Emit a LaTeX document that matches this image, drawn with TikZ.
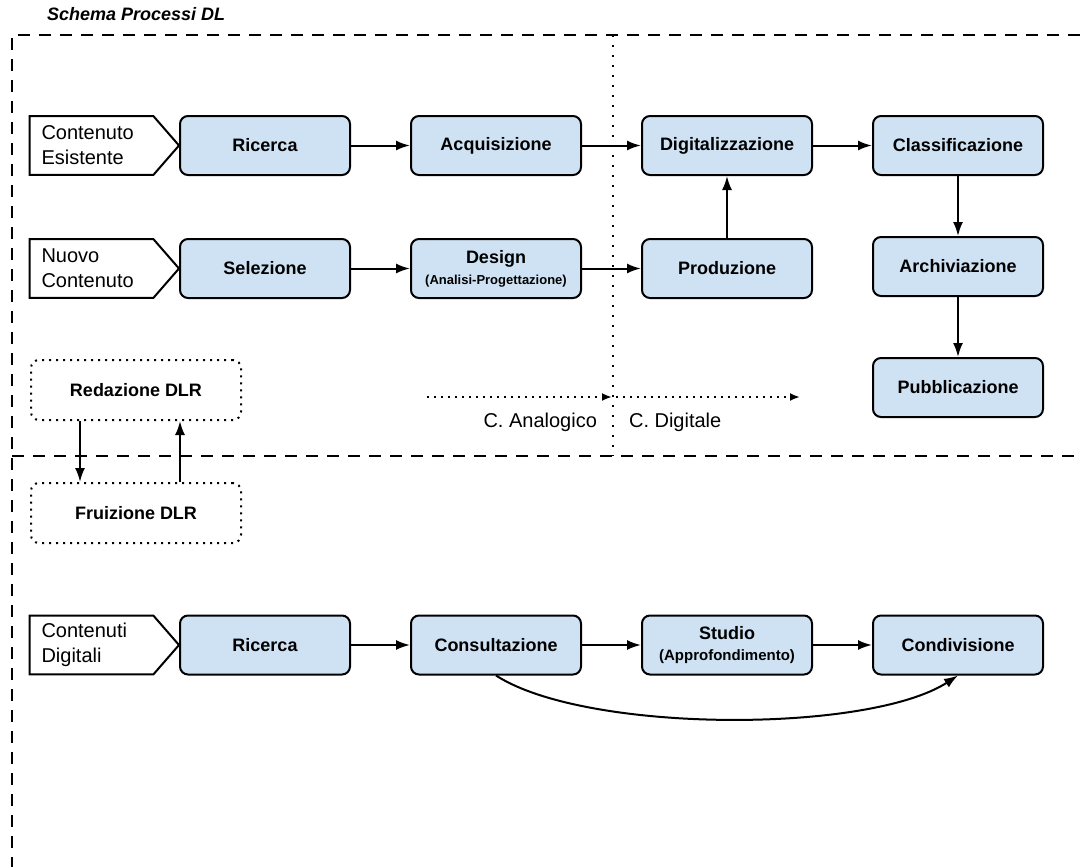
\documentclass[tikz,border=0pt]{standalone}
\usepackage{fontspec}
\setmainfont{Liberation Sans}
\usetikzlibrary{positioning,chains,arrows.meta}
\definecolor{boxblue}{RGB}{207,226,243}

\begin{document}
\begin{tikzpicture}[x=0.5pt,y=-0.5pt,
proc/.style={draw,line width=1pt,rounded corners=4pt,fill=boxblue,
 minimum width=85pt,minimum height=29.5pt,align=center,inner sep=1pt,
 font=\bfseries\fontsize{9}{10.5}\selectfont},
procc/.style={proc,on chain,join},
src/.style={minimum width=61.5pt,minimum height=29pt,inner xsep=5.75pt,
 text width=50pt,align=left,font=\fontsize{10}{12.5}\selectfont},
redbox/.style={draw,line width=1pt,dash pattern=on 1pt off 2.5pt,
 rounded corners=4pt,minimum width=105pt,minimum height=30pt,
 font=\bfseries\fontsize{9}{11}\selectfont},
arr/.style={-{Latex[length=7pt,width=5pt]},line width=1pt},
darr/.style={-{Latex[length=5pt,width=4pt]},line width=1pt,
 dash pattern=on 1pt off 2.5pt},
frame/.style={line width=1pt,dash pattern=on 6pt off 4.5pt},
sep/.style={line width=1pt,dash pattern=on 1pt off 4pt}]
\useasboundingbox (0,0) rectangle (1080,867);

% cornice e separatori
\node[anchor=west,font=\bfseries\itshape\fontsize{9}{11}\selectfont] (title)
 at (40,14) {Schema Processi DL};
\draw[frame] (1080,35) -- (12,35) -- (12,867);
\draw[frame] (12,456) -- (1080,456);
\draw[sep] (613,35) -- (613,456);

% produzione
\begin{scope}[start chain=going right,node distance=29.5pt,every join/.style=arr]
 \node[procc] (ricA) at (265,145.5) {Ricerca};
 \node[procc] (acq) {Acquisizione};
 \node[procc] (dig) {Digitalizzazione};
 \node[procc] (cla) {Classificazione};
\end{scope}
\begin{scope}[start chain=going right,node distance=29.5pt,every join/.style=arr]
 \node[procc] (sel) at (265,268.5) {Selezione};
 \node[procc] (des) {Design\\{\fontsize{6.5}{8}\selectfont(Analisi-Progettazione)}};
 \node[procc] (pro) {Produzione};
\end{scope}
\node[proc,below=30pt of cla] (arc) {Archiviazione};
\node[proc,below=30pt of arc] (pub) {Pubblicazione};
\draw[arr] (pro) -- (dig);
\draw[arr] (cla) -- (arc);
\draw[arr] (arc) -- (pub);

\node[src] (inA) at (91.5,145.5) {Contenuto\\Esistente};
\node[src] (inB) at (91.5,268.5) {Nuovo\\Contenuto};
\foreach \I/\B in {inA/ricA,inB/sel}
 \draw[line width=1pt] (\I.north west) -- (\I.north east) -- (\B.west)
 -- (\I.south east) -- (\I.south west) -- cycle;

% analogico / digitale
\coordinate (ana0) at (427,397);
\coordinate (ana1) at (612,397);
\coordinate (dig0) at (616,397);
\coordinate (dig1) at (800,397);
\draw[darr] (ana0) -- (ana1);
\draw[darr] (dig0) -- (dig1);
\node[anchor=east,font=\fontsize{10}{12}\selectfont] (lana) at (604,422) {C. Analogico};
\node[anchor=west,font=\fontsize{10}{12}\selectfont] (ldig) at (622,422) {C. Digitale};

% DLR
\node[redbox] (red) at (136,390) {Redazione DLR};
\node[redbox] (fru) at (136,513) {Fruizione DLR};
\draw[arr] ([xshift=-28pt]red.south) -- ([xshift=-28pt]fru.north);
\draw[arr] ([xshift=22pt]fru.north) -- ([xshift=22pt]red.south);

% fruizione
\begin{scope}[start chain=going right,node distance=29.5pt,every join/.style=arr]
 \node[procc] (ric) at (265,645) {Ricerca};
 \node[procc] (con) {Consultazione};
 \node[procc] (stu) {Studio\\{\fontsize{7.5}{9}\selectfont(Approfondimento)}};
 \node[procc] (cnd) {Condivisione};
\end{scope}
\node[src] (inC) at (91.5,645) {Contenuti\\Digitali};
\draw[line width=1pt] (inC.north west) -- (inC.north east) -- (ric.west)
 -- (inC.south east) -- (inC.south west) -- cycle;
\draw[arr] (con.south) .. controls +(90,58) and +(-90,58) .. (cnd.south);

\end{tikzpicture}
\end{document}
